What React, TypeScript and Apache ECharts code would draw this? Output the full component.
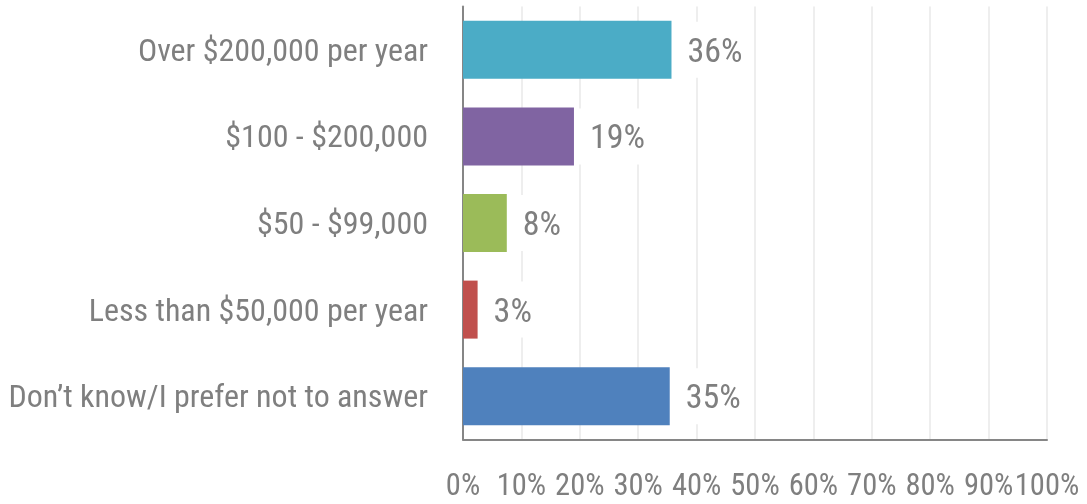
import React, { useEffect, useRef } from "react";
import * as echarts from "echarts";

const categories = [
  "Over $200,000 per year",
  "$100 - $200,000",
  "$50 - $99,000",
  "Less than $50,000 per year",
  "Don’t know/I prefer not to answer",
];
const values = [35.7, 19, 7.5, 2.5, 35.4];
const barColors = ["#4BACC6", "#8064A2", "#9BBB59", "#C0504D", "#4F81BD"];
const xTicks = [0, 10, 20, 30, 40, 50, 60, 70, 80, 90, 100];

const FONT = "'Roboto Condensed', 'Open Sans Condensed', sans-serif";
const TEXT = "#7F7F7F";

export default function App() {
  const ref = useRef<HTMLDivElement>(null);
  useEffect(() => {
    if (!ref.current) return;
    const chart = echarts.init(ref.current, undefined, { renderer: "svg" });
    chart.setOption({
      animation: false,
      grid: { left: 463, right: 40, top: 6.5, bottom: 64.5, containLabel: false },
      xAxis: {
        type: "value",
        min: xTicks[0],
        max: xTicks[xTicks.length - 1],
        interval: 10,
        axisLine: { show: true, lineStyle: { color: "#868686", width: 2 } },
        axisTick: { show: false },
        splitLine: { show: true, lineStyle: { color: "#EEEEEE", width: 2 } },
        axisLabel: {
          formatter: (v: number) => v + "%",
          color: TEXT,
          fontFamily: FONT,
          fontSize: 30.5,
          margin: 29,
          showMinLabel: true,
          showMaxLabel: true,
          hideOverlap: false,
        },
      },
      yAxis: {
        type: "category",
        inverse: true,
        data: categories,
        axisLine: { show: true, lineStyle: { color: "#868686", width: 2 } },
        axisTick: { show: false },
        axisLabel: {
          color: TEXT,
          fontFamily: FONT,
          fontSize: 32,
          margin: 35,
        },
      },
      series: [
        {
          type: "bar",
          barWidth: 58,
          data: values.map((v, i) => ({ value: v, itemStyle: { color: barColors[i] } })),
          label: {
            show: true,
            position: "right",
            distance: 4,
            formatter: (p: any) => Math.round(p.value) + "%",
            color: TEXT,
            fontFamily: FONT,
            fontSize: 34,
            backgroundColor: "#FFFFFF",
            padding: [11, 10, 11, 12],
          },
        },
      ],
    });
    return () => chart.dispose();
  }, []);
  return (
    <div
      ref={ref}
      style={{ position: "fixed", left: 0, top: 0, width: 1087, height: 504 }}
    />
  );
}
